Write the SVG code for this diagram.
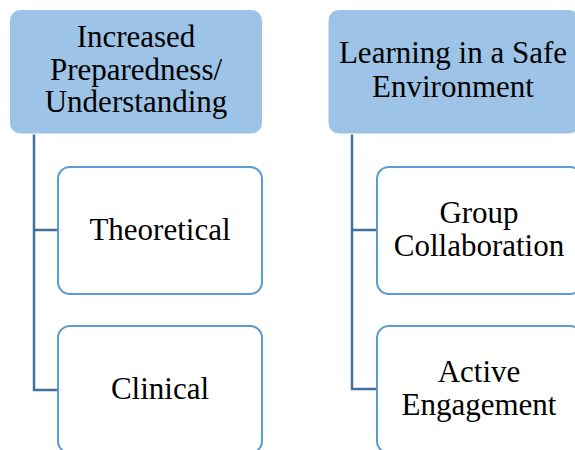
<svg xmlns="http://www.w3.org/2000/svg" width="575" height="450" viewBox="0 0 575 450">
  <style>
    .head { fill: #9dc3e6; stroke: #ffffff; stroke-width: 1; }
    .child { fill: #ffffff; stroke: #5b9bd5; stroke-width: 2; }
    .conn { fill: none; stroke: #41719c; stroke-width: 2.5; }
    text { font-family: "Liberation Serif", "Times New Roman", serif; font-size: 31px; fill: #000000; text-anchor: middle; }
  </style>
  <rect width="575" height="450" fill="#ffffff"/>

  <!-- tree connectors -->
  <g id="connectors">
    <path class="conn" d="M34 134 V390 H58 M34 230 H58"/>
    <path class="conn" d="M352 134 V389 H377 M352 230 H377"/>
  </g>

  <!-- left column -->
  <g id="preparedness">
    <rect class="head" x="9.5" y="9.5" width="253" height="124.5" rx="11"/>
    <text x="136" y="47">Increased</text>
    <text x="136" y="80">Preparedness/</text>
    <text x="136" y="112">Understanding</text>
  </g>
  <g id="theoretical">
    <rect class="child" x="58" y="167" width="204" height="127" rx="12"/>
    <text x="160" y="240">Theoretical</text>
  </g>
  <g id="clinical">
    <rect class="child" x="58" y="326" width="204" height="127" rx="12"/>
    <text x="160" y="399">Clinical</text>
  </g>

  <!-- right column -->
  <g id="safe-environment">
    <rect class="head" x="328" y="9.5" width="252" height="124.5" rx="11"/>
    <text x="453" y="63">Learning in a Safe</text>
    <text x="453" y="97">Environment</text>
  </g>
  <g id="group-collaboration">
    <rect class="child" x="377" y="167" width="205" height="127" rx="12"/>
    <text x="479" y="223">Group</text>
    <text x="479" y="256">Collaboration</text>
  </g>
  <g id="active-engagement">
    <rect class="child" x="377" y="326" width="205" height="127" rx="12"/>
    <text x="479" y="382">Active</text>
    <text x="479" y="415">Engagement</text>
  </g>
</svg>
